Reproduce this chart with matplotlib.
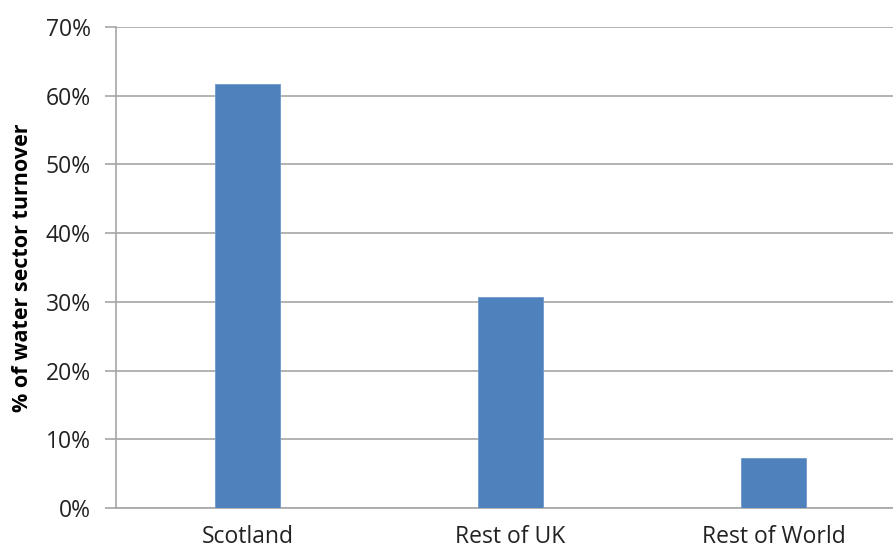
import matplotlib
matplotlib.use("Agg")
import matplotlib.pyplot as plt
from matplotlib.ticker import FuncFormatter

plt.rcParams['font.family'] = ['Open Sans', 'DejaVu Sans']

# data
regions = ['Scotland', 'Rest of UK', 'Rest of World']
share = [0.617, 0.307, 0.073]
yticks = [0, 0.1, 0.2, 0.3, 0.4, 0.5, 0.6, 0.7]

fig = plt.figure(figsize=(8.93, 5.51), dpi=100)
# plot area runs past the right edge, as in the original crop
ax = fig.add_axes([116/893, 43/551, 789/893, 481/551])

x = range(len(regions))
ax.bar(x, share, width=0.247, color='#4F81BD', edgecolor='#6F98CB', linewidth=0.6, zorder=3)

ax.set_xlim(-0.5, len(regions) - 0.5)
ax.set_ylim(0, 0.7)
ax.set_yticks(yticks)
ax.yaxis.set_major_formatter(FuncFormatter(lambda y, _: '{:.0f}%'.format(y*100)))
ax.set_xticks(list(x))
ax.set_xticklabels(regions)

ax.grid(axis='y', color='#A6A6A6', linewidth=1.2, zorder=0)
for s in ['top', 'right']:
    ax.spines[s].set_visible(False)
ax.spines['left'].set_color('#A6A6A6')
ax.spines['left'].set_linewidth(1.2)
ax.spines['bottom'].set_color('#A6A6A6')
ax.spines['bottom'].set_linewidth(1.2)

ax.tick_params(axis='y', length=8, width=1.2, color='#A6A6A6', labelsize=16.5, labelcolor='#222222', pad=10)
ax.tick_params(axis='x', length=0, labelsize=16.5, labelcolor='#222222', pad=12)

ax.set_ylabel('% of water sector turnover', fontsize=15.5, fontweight='bold', labelpad=9)

fig.savefig('out.png', dpi=100)
